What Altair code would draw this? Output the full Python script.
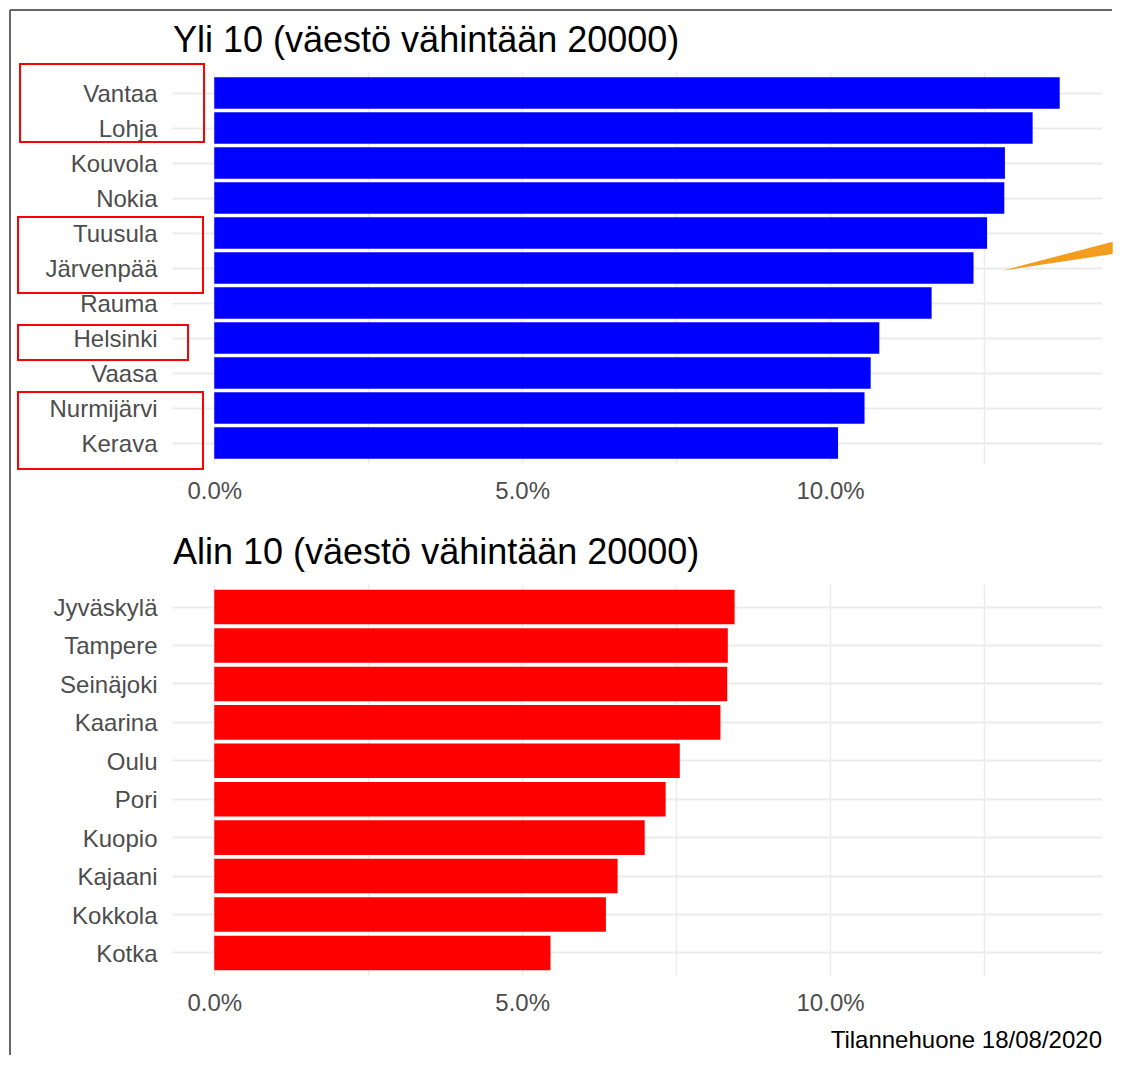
import altair as alt
import pandas as pd

# ---- data ----
top_cities = ["Vantaa", "Lohja", "Kouvola", "Nokia", "Tuusula", "Järvenpää",
              "Rauma", "Helsinki", "Vaasa", "Nurmijärvi", "Kerava"]
top_values = [13.73, 13.29, 12.84, 12.83, 12.55, 12.33, 11.65, 10.80, 10.66, 10.56, 10.13]

bottom_cities = ["Jyväskylä", "Tampere", "Seinäjoki", "Kaarina", "Oulu", "Pori",
                 "Kuopio", "Kajaani", "Kokkola", "Kotka"]
bottom_values = [8.45, 8.34, 8.33, 8.22, 7.56, 7.33, 6.99, 6.55, 6.36, 5.46]

x_ticks = [0.0, 0.025, 0.05, 0.075, 0.10, 0.125]

top_title = "Yli 10 (väestö vähintään 20000)"
bottom_title = "Alin 10 (väestö vähintään 20000)"
caption = "Tilannehuone 18/08/2020"

# ---- helpers ----
FONT = "Liberation Sans"
W, H = 930, 392
vmax = max(top_values) / 100
x_domain = [-0.05 * vmax, 1.05 * vmax]

df_top = pd.DataFrame({"city": top_cities, "value": [v / 100 for v in top_values]})
df_bot = pd.DataFrame({"city": bottom_cities, "value": [v / 100 for v in bottom_values]})
one = pd.DataFrame({"k": [0]})


def x_enc():
    return alt.X(
        "value:Q", title="",
        scale=alt.Scale(domain=x_domain, nice=False, zero=False),
        axis=alt.Axis(
            values=x_ticks,
            labelExpr="abs(round(datum.value*1000) % 50) < 1 ? format(datum.value, '.1%') : ''",
            grid=True, gridColor="#ebebeb", gridWidth=1.5,
            ticks=False, tickSize=0, domain=False,
            labelFontSize=24, labelColor="#4d4d4d", labelFont=FONT,
            labelPadding=15, labelFlush=False,
        ),
    )


def y_enc(order):
    return alt.Y(
        "city:N", sort=order, title="",
        scale=alt.Scale(paddingInner=0.1, paddingOuter=0.15),
        axis=alt.Axis(
            grid=True, gridColor="#ebebeb", gridWidth=2, bandPosition=0.5,
            ticks=False, tickSize=0, domain=False,
            labelFontSize=24, labelColor="#4d4d4d", labelFont=FONT,
            labelPadding=15, labelLimit=400, labelOffset=2,
        ),
    )


def bars(df, order, color):
    return alt.Chart(df).mark_bar(color=color).encode(
        x=x_enc(), x2=alt.datum(0), y=y_enc(order)
    )


def text(txt, x, y, size, align, color="black"):
    return alt.Chart(one).mark_text(
        align=align, baseline="alphabetic", fontSize=size, font=FONT, color=color
    ).encode(x=alt.value(x), y=alt.value(y), text=alt.value(txt))


def box(x1, x2, y1, y2):
    return alt.Chart(one).mark_rect(
        fill="transparent", stroke="#ff0000", strokeWidth=2
    ).encode(x=alt.value(x1), x2=alt.value(x2), y=alt.value(y1), y2=alt.value(y2))


wedge = alt.Chart(one).mark_point(
    shape="M0,0L1,-0.26L1,-0.15Z", filled=True, size=49284,
    color="#F39C1E", opacity=1, strokeWidth=0
).encode(x=alt.value(829.7), y=alt.value(198.7))

border_top = alt.Chart(one).mark_rule(color="#666666", strokeWidth=2).encode(
    x=alt.value(-162), x2=alt.value(940), y=alt.value(-62))
border_left = alt.Chart(one).mark_rule(color="#666666", strokeWidth=2).encode(
    x=alt.value(-162), y=alt.value(-62), y2=alt.value(983))

top = alt.layer(
    bars(df_top, top_cities, "#0000ff"),
    text(top_title, 1, -20, 36, "left"),
    box(-152, 32, -8, 70),
    box(-154, 31, 145, 221),
    box(-154, 16, 253, 288),
    box(-154, 31, 320, 397),
    wedge, border_top, border_left,
).properties(width=W, height=H)

bottom = alt.layer(
    bars(df_bot, bottom_cities, "#ff0000"),
    text(bottom_title, 1, -20, 36, "left"),
    text(caption, W, 464, 24, "right"),
).properties(width=W, height=H)

chart = alt.vconcat(top, bottom, spacing=120, bounds="flush").properties(
    padding=0, background="white"
).configure(font=FONT).configure_view(stroke="transparent")

chart.save("out.html", embed_options={"renderer": "svg", "actions": False})
